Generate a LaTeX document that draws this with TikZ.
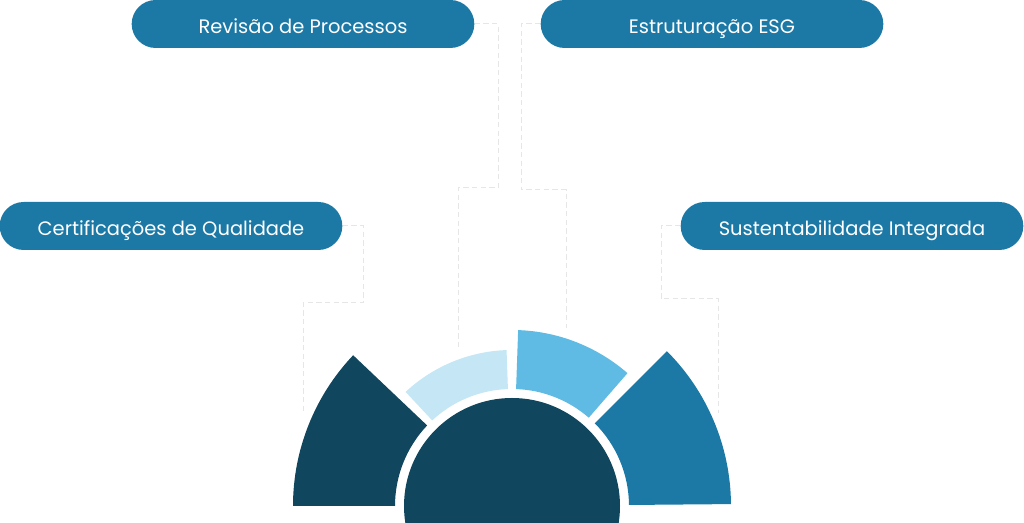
\documentclass[tikz,border=0pt]{standalone}
\usepackage{fontspec}
\setmainfont{Poppins}
\usepackage{tikz}
\usetikzlibrary{positioning, calc}
\definecolor{fanDeep}{HTML}{10475E}
\definecolor{fanMain}{HTML}{1C79A6}
\definecolor{fanSky}{HTML}{5FBBE3}
\definecolor{fanPale}{HTML}{C5E6F5}
\definecolor{linkGray}{HTML}{E6E6E6}

\begin{document}
\begin{tikzpicture}[
  x=0.75pt, y=0.75pt,
  pill/.style={fill=fanMain, rounded corners=18pt, minimum width=257pt,
               minimum height=36pt, inner sep=0pt, text=white,
               text height=13.6pt, text depth=0pt, font=\fontsize{14.6}{17}\selectfont},
  hub/.style={circle, fill=fanDeep, minimum size=162pt, inner sep=0pt},
  link/.style={draw=linkGray, line width=0.75pt, dash pattern=on 4pt off 2.5pt}
]
\useasboundingbox (0,0) rectangle (1024,523);
\clip (0,0) rectangle (1024,523);

\node[pill] (revisao) at (303,499) {Revisão de Processos};
\node[pill] (estrut) at (712,499) {Estruturação ESG};
\node[pill] (certif) at (171,297) {Certificações de Qualidade};
\node[pill] (susten) at (852,297) {Sustentabilidade Integrada};

\node[hub] (hub) at (512,17) {};

% fan segments
\fill[fanDeep] ([shift={(180:117)}]hub.center) arc[start angle=180, end angle=136.5, radius=117]
  -- ([shift={(136.5:219)}]hub.center) arc[start angle=136.5, end angle=180, radius=219] -- cycle;
\fill[fanPale] ([shift={(133:117)}]hub.center) arc[start angle=133, end angle=92, radius=117]
  -- ([shift={(92:156)}]hub.center) arc[start angle=92, end angle=133, radius=156] -- cycle;
\fill[fanSky] ([shift={(88:117)}]hub.center) arc[start angle=88, end angle=49, radius=117]
  -- ([shift={(49:176)}]hub.center) arc[start angle=49, end angle=88, radius=176] -- cycle;
\fill[fanMain] ([shift={(45:117)}]hub.center) arc[start angle=45, end angle=0.5, radius=117]
  -- ([shift={(0.5:219)}]hub.center) arc[start angle=0.5, end angle=45, radius=219] -- cycle;

\coordinate (revEnd) at (458,173);
\coordinate (estEnd) at (566,195);
\coordinate (certEnd) at (303,110);
\coordinate (susEnd) at (718,110);

\draw[link] (revisao.east) -| (498,335) -| (revEnd);
\draw[link] (estrut.west) -| (521,333) -| (estEnd);
\draw[link] (certif.east) -| (363,220) -| (certEnd);
\draw[link] (susten.west) -| (661,224) -| (susEnd);
\end{tikzpicture}
\end{document}
